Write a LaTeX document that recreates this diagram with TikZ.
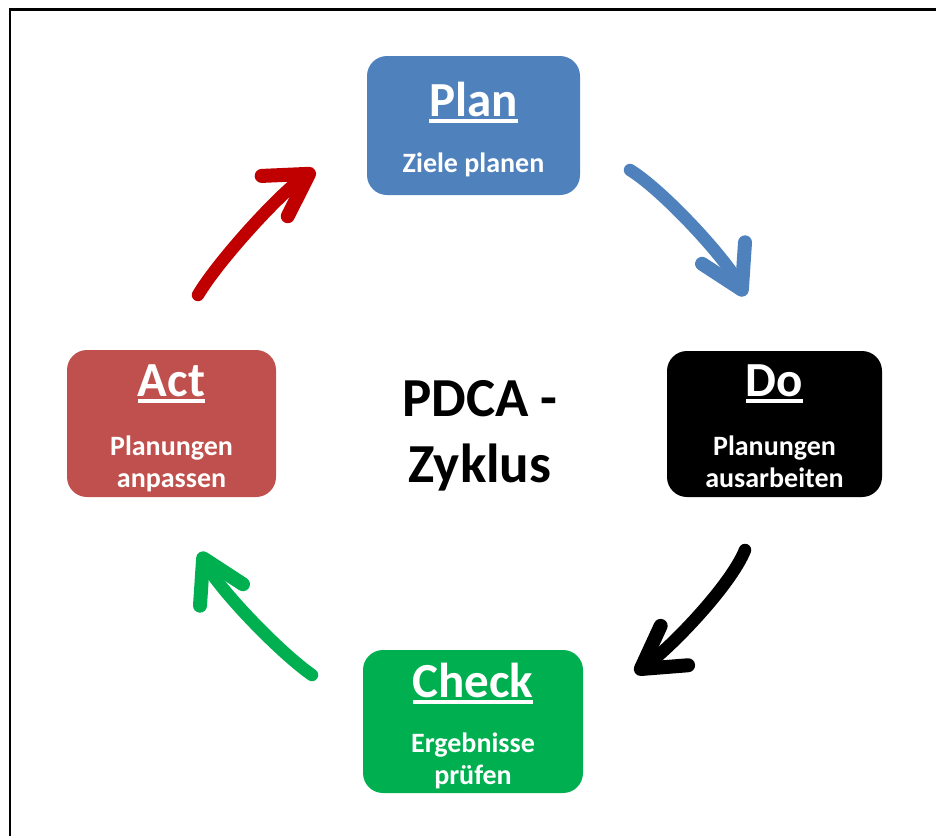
\documentclass[tikz,border=0pt]{standalone}
\usepackage{fontspec}
\setmainfont{Carlito}
\usetikzlibrary{arrows.meta}
\definecolor{planblue}{HTML}{4F81BD}
\definecolor{checkgreen}{HTML}{00B050}
\definecolor{actred}{HTML}{C0504D}
\definecolor{arrowred}{HTML}{C00000}
\newcommand\ultitle[1]{\sbox0{#1}\rlap{\usebox0}\rule[-7pt]{\wd0}{4pt}}

\begin{document}
\begin{tikzpicture}[x=1pt,y=-1pt,
    stage/.style={rounded corners=20pt, inner sep=0pt},
    stagetitle/.style={anchor=base, text=white, inner sep=0pt, font=\fontsize{49}{58}\selectfont\bfseries},
    stagetext/.style={anchor=base, text=white, inner sep=0pt, align=center, font=\fontsize{28}{32}\selectfont\bfseries},
    cycarrow/.style={line width=12.5pt, line cap=round, -{Straight Barb[round, length=41pt, width=48pt, line width=14pt]}}]

\useasboundingbox (0,0) rectangle (936,836);
% frame
\draw[line width=2.5pt] (10,836) -- (10,9.5) -- (936,9.5);

% the four stages
\node[stage, fill=planblue, minimum width=213pt, minimum height=139pt] (plan) at (473.5,125.5) {};
\node[stagetitle] (plantitle) at (473.5,116) {\ultitle{Plan}};
\node[stagetext] (plantext) at (473.5,172) {Ziele planen};

\node[stage, fill=black, minimum width=215pt, minimum height=146pt] (do) at (774.5,424) {};
\node[stagetitle] (dotitle) at (774.5,396) {\ultitle{Do}};
\node[stagetext] (dotext) at (774.5,487) {Planungen\\ausarbeiten};

\node[stage, fill=checkgreen, minimum width=220pt, minimum height=143pt] (check) at (473,721.5) {};
\node[stagetitle] (checktitle) at (473,697) {\ultitle{Check}};
\node[stagetext] (checktext) at (473,784) {Ergebnisse\\prüfen};

\node[stage, fill=actred, minimum width=209pt, minimum height=147pt] (act) at (171.5,423.5) {};
\node[stagetitle] (acttitle) at (171.5,396) {\ultitle{Act}};
\node[stagetext] (acttext) at (171.5,487) {Planungen\\anpassen};

\node[font=\fontsize{55}{66}\selectfont\bfseries, align=center] (pdca) at (480,436) {PDCA -\\Zyklus};

% arrows between the stages
\coordinate (pd1) at (630,170);
\coordinate (pd2) at (745,296);
\coordinate (dc1) at (745,550);
\coordinate (dc2) at (635,673);
\coordinate (ca1) at (312,675);
\coordinate (ca2) at (200,552);
\coordinate (ap1) at (198,295);
\coordinate (ap2) at (315,170);

\draw[cycarrow, planblue] (pd1) .. controls +(34,21) and +(-18,-36) .. (pd2);
\draw[cycarrow, black] (dc1) .. controls +(-15,37) and +(33,-23) .. (dc2);
\draw[cycarrow, checkgreen] (ca1) .. controls +(-33,-23) and +(18,36) .. (ca2);
\draw[cycarrow, arrowred] (ap1) .. controls +(20,-34) and +(-34,22) .. (ap2);
\end{tikzpicture}
\end{document}
